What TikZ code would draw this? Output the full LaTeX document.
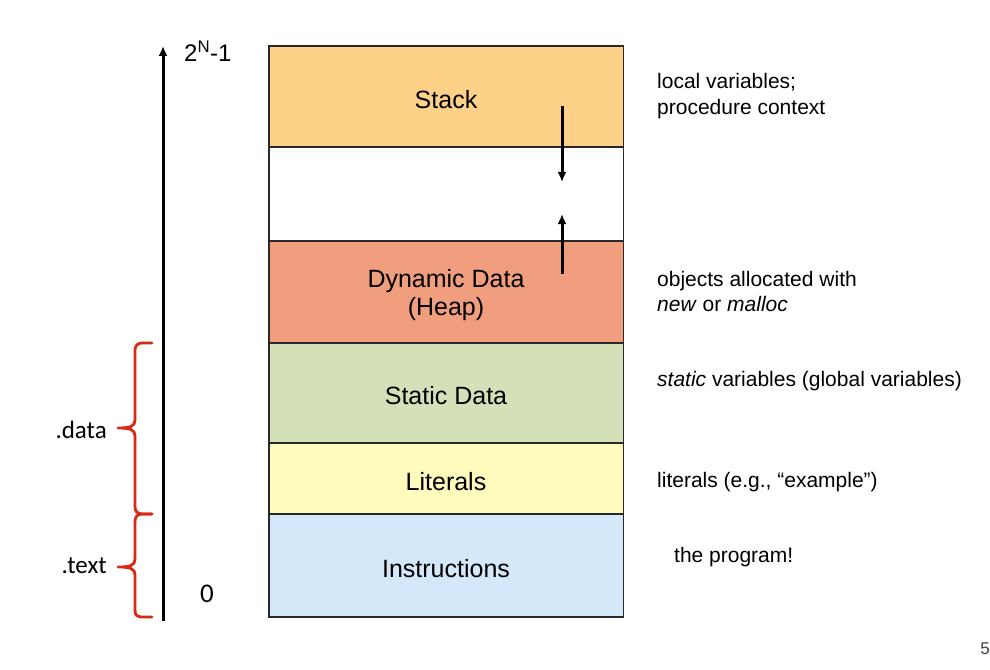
\documentclass[tikz,border=0pt]{standalone}
\usepackage{fontspec}
\setmainfont{Liberation Sans}
\newfontfamily\calfont{Carlito}
\usetikzlibrary{arrows.meta}
\definecolor{cstack}{RGB}{253,210,136}
\definecolor{cheap}{RGB}{240,158,126}
\definecolor{cstatic}{RGB}{212,225,184}
\definecolor{clit}{RGB}{255,251,188}
\definecolor{cinstr}{RGB}{212,232,250}
\definecolor{cbrace}{RGB}{214,42,20}
\definecolor{cedge}{RGB}{40,40,40}
\tikzset{
  seg/.style={draw=cedge, line width=1.3bp, minimum width=354.5bp, inner sep=0pt},
  lbl/.style={inner sep=0pt, align=center, font=\fontsize{25bp}{28bp}\selectfont},
  note/.style={anchor=west, align=left, inner sep=0pt, font=\fontsize{21bp}{25.5bp}\selectfont},
  brc/.style={draw=cbrace, line width=2.8bp, line join=round, line cap=round},
  arr/.style={line width=3bp, -{Latex[length=10bp,width=9bp]}},
  side/.style={inner sep=0pt, font=\calfont\fontsize{25bp}{28bp}\selectfont},
}
\begin{document}
\begin{tikzpicture}[x=1bp,y=-1bp]
\useasboundingbox (0,0) rectangle (990,670);
% memory segments
\node[seg, fill=cstack, minimum height=101bp] (stack) at (446.25,96.5) {};
\node[seg, fill=white, minimum height=94bp] (gap) at (446.25,194) {};
\node[seg, fill=cheap, minimum height=102bp] (heap) at (446.25,292) {};
\node[seg, fill=cstatic, minimum height=100bp] (static) at (446.25,393) {};
\node[seg, fill=clit, minimum height=71bp] (lit) at (446.25,478.5) {};
\node[seg, fill=cinstr, minimum height=103bp] (instr) at (446.25,565.5) {};
\node[lbl] (stackL) at (446,99.5) {Stack};
\node[lbl] (heapL) at (446,295) {Dynamic Data\\(Heap)};
\node[lbl] (staticL) at (446,395.5) {Static Data};
\node[lbl] (litL) at (446,481.5) {Literals};
\node[lbl] (instrL) at (446,568.5) {Instructions};
% growth arrows
\coordinate (sd0) at (562,106);
\coordinate (sd1) at (562,182);
\coordinate (hu0) at (562,274);
\coordinate (hu1) at (562,214);
\draw[arr] (sd0) -- (sd1);
\draw[arr] (hu0) -- (hu1);
% address axis
\coordinate (ax0) at (163,621);
\coordinate (ax1) at (163,46);
\draw[arr] (ax0) -- (ax1);
\node[inner sep=0pt, anchor=west, font=\fontsize{24bp}{28bp}\selectfont] (top) at (184,51) {2\textsuperscript{N}-1};
\node[side, font=\calfont\fontsize{27bp}{30bp}\selectfont] (zero) at (207,594) {0};
% braces
\draw[brc] (152,343) -- (144,343) .. controls (137,343) and (135,345) .. (135,352)
  -- (135,420) .. controls (135,426) and (131,428) .. (118,428)
  .. controls (131,428) and (135,430) .. (135,436)
  -- (135,506) .. controls (135,512) and (137,514) .. (144,514) -- (152,514);
\draw[brc] (152,514) -- (144,514) .. controls (137,514) and (135,516) .. (135,523)
  -- (135,559) .. controls (135,565) and (131,567) .. (118,567)
  .. controls (131,567) and (135,569) .. (135,575)
  -- (135,610) .. controls (135,616) and (137,617) .. (144,617) -- (152,617);
\node[side, anchor=east] (data) at (107,430) {.data};
\node[side, anchor=east] (text) at (107,566) {.text};
% notes
\node[note] (n1) at (657,96) {local variables;\\procedure context};
\node[note] (n2) at (657,291.5) {objects allocated with\\\textit{new} or \textit{malloc}};
\node[note] (n3) at (657,381) {\textit{static} variables (global variables)};
\node[note] (n4) at (657,482) {literals (e.g., “example”)};
\node[note] (n5) at (674,557) {the program!};
\node[inner sep=0pt, font=\fontsize{17bp}{20bp}\selectfont, text=black!75] (pg) at (985,649) {5};
\end{tikzpicture}
\end{document}
